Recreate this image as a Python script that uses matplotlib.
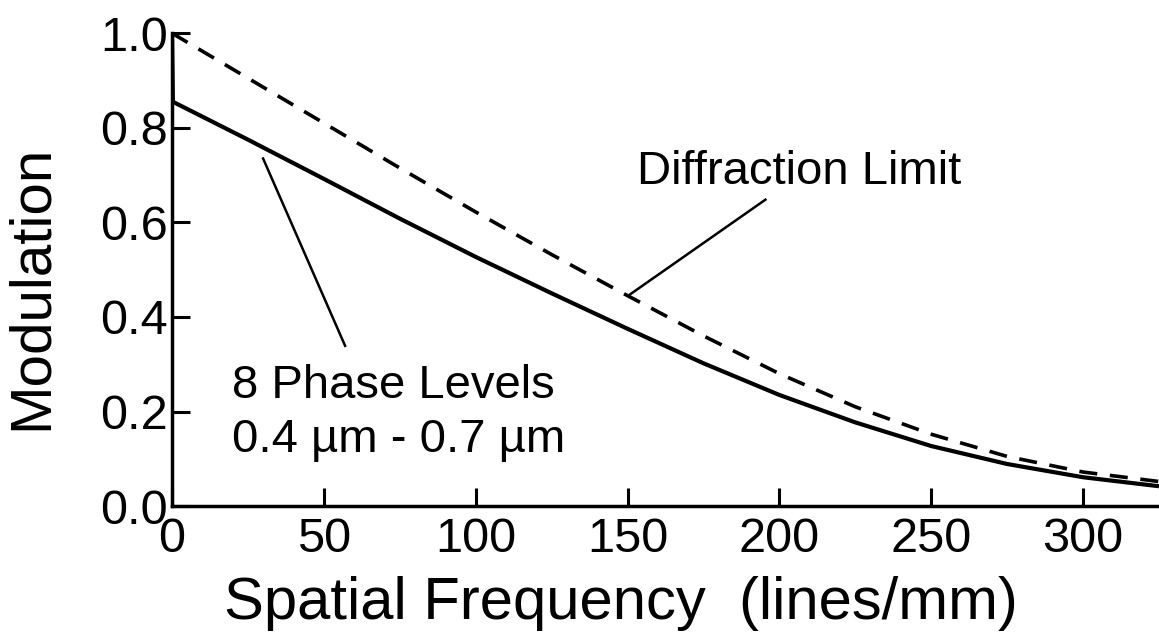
import numpy as np
import matplotlib.pyplot as plt

plt.rcParams['font.family'] = ['Liberation Sans', 'DejaVu Sans']

# Spatial frequency (lines/mm)
freq = [0, 25, 50, 75, 100, 125, 150, 175, 200, 225, 250, 275, 300, 325]

# Diffraction limited MTF (dashed)
diff_limit = [1.0, 0.905, 0.81, 0.715, 0.622, 0.532, 0.445, 0.36, 0.28, 0.21,
              0.152, 0.105, 0.072, 0.052]

# 8 phase levels, 0.4 - 0.7 um (solid); drops from 1.0 to 0.855 at zero
phase_freq = [0, 0.3, 25, 50, 75, 100, 125, 150, 175, 200, 225, 250, 275, 300, 325]
phase_mtf = [1.0, 0.855, 0.775, 0.692, 0.608, 0.527, 0.450, 0.375, 0.302,
             0.235, 0.177, 0.127, 0.089, 0.061, 0.042]

fig = plt.figure(figsize=(11.59, 6.39), dpi=100)
ax = fig.add_axes([0.1484, 0.208, 0.8516, 0.74])

ax.plot(phase_freq, phase_mtf, color='black', lw=3.0, solid_capstyle='butt')
ax.plot(freq, diff_limit, color='black', lw=2.6, dashes=(5, 3.5))

# labels with leader lines
ax.text(153.2, 0.707, 'Diffraction Limit', fontsize=34, ha='left', va='center')
ax.plot([195.4, 150.9], [0.648, 0.448], color='black', lw=1.8)
ax.text(19.8, 0.255, '8 Phase Levels', fontsize=34, ha='left', va='center')
ax.text(19.8, 0.139, '0.4 \u00b5m - 0.7 \u00b5m', fontsize=34, ha='left', va='center')
ax.plot([30, 57], [0.735, 0.339], color='black', lw=1.8)

ax.set_xlim(0, 325)
ax.set_ylim(0, 1.0)
ax.set_xticks([0, 50, 100, 150, 200, 250, 300])
ax.set_yticks([0.0, 0.2, 0.4, 0.6, 0.8, 1.0])
ax.set_yticklabels(['0.0', '0.2', '0.4', '0.6', '0.8', '1.0'])

for side in ['top', 'right']:
    ax.spines[side].set_visible(False)
for side in ['left', 'bottom']:
    ax.spines[side].set_linewidth(2.5)

ax.tick_params(direction='in', length=13, width=2.2, labelsize=35, pad=3)
ax.tick_params(axis='x', pad=8)

ax.set_xlabel('Spatial Frequency  (lines/mm)', fontsize=43)
ax.xaxis.set_label_coords(0.455, -0.148)
ax.set_ylabel('Modulation', fontsize=42, labelpad=30)
ax.yaxis.label.set_y(0.463)

fig.savefig('out.png', dpi=100)
